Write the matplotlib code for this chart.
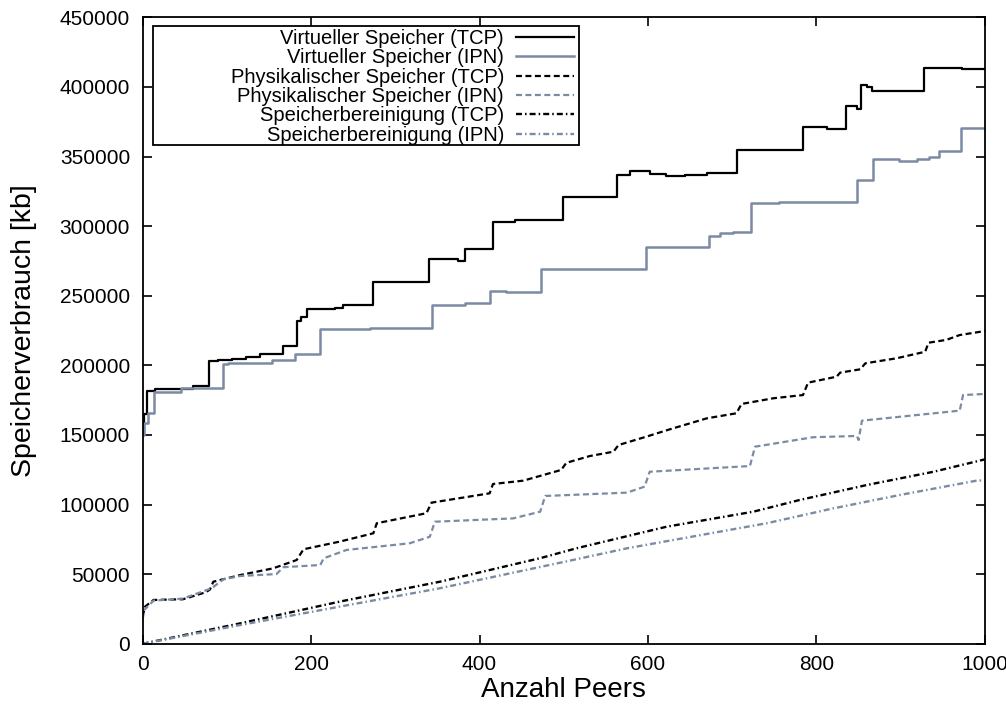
import numpy as np
import matplotlib.pyplot as plt
from matplotlib.patches import Rectangle

plt.rcParams['font.family'] = ['Liberation Sans', 'DejaVu Sans']
plt.rcParams['lines.scale_dashes'] = False

# Virtueller Speicher (Stufen)
virt_tcp_x = [0, 2, 5, 15, 60, 79, 90, 106, 123, 140, 167, 183, 188, 195, 228, 238, 274, 340, 375,
              383, 416, 442, 499, 563, 579, 602, 621, 644, 670, 706, 784, 813, 835, 848, 853, 860,
              866, 928, 973, 1000]
virt_tcp_y = [150000, 165000, 181600, 183300, 185200, 203100, 204000, 204800, 205800, 208200,
              213900, 232100, 235000, 240300, 241500, 243600, 259700, 276200, 275000, 283400,
              303300, 304500, 320800, 336800, 339700, 337300, 336100, 337000, 338000, 354700,
              371000, 369800, 386400, 384000, 401400, 400000, 397400, 413900, 412700, 412700]

virt_ipn_x = [0, 2, 7, 13, 46, 95, 102, 154, 181, 211, 270, 343, 383, 412, 431, 473, 598, 672,
              685, 701, 722, 755, 848, 867, 898, 919, 933, 945, 972, 1000]
virt_ipn_y = [150000, 158400, 166000, 181100, 183500, 200800, 201600, 203900, 208000, 226200,
              227000, 243300, 244600, 253700, 252500, 269000, 285300, 293000, 294900, 296000,
              316500, 317600, 333200, 348000, 346800, 348000, 350000, 354200, 370300, 370300]

# Physikalischer Speicher
phys_tcp_x = [0, 3, 13, 48, 75, 80, 84, 116, 155, 183, 191, 234, 274, 278, 337, 343, 412, 416,
              452, 497, 503, 531, 559, 565, 598, 626, 670, 705, 711, 749, 784, 790, 824, 828,
              852, 858, 895, 929, 933, 954, 970, 1000]
phys_tcp_y = [19500, 26700, 31500, 32000, 37000, 39000, 44600, 49400, 54200, 60200, 67900, 73400,
              79400, 86600, 93800, 101400, 108100, 114800, 117200, 124900, 130000, 134900,
              138000, 142800, 148800, 154100, 162000, 165600, 172300, 176400, 178700, 187600,
              191900, 194800, 197200, 201500, 205100, 209800, 216300, 218300, 221800, 224700]

phys_ipn_x = [0, 2, 13, 48, 82, 96, 116, 159, 167, 211, 215, 242, 317, 341, 347, 440, 472, 478,
              507, 575, 596, 602, 721, 727, 796, 848, 850, 854, 970, 974, 1000]
phys_ipn_y = [17100, 24300, 31000, 32500, 39900, 46300, 48700, 50100, 55000, 56600, 61400,
              67400, 72200, 76900, 87700, 90100, 94900, 106200, 106900, 108600, 112900, 123600,
              127700, 141600, 148400, 149300, 146400, 160300, 167500, 178700, 179500]

# Speicherbereinigung
gc_tcp_x = [0, 116, 234, 353, 472, 515, 622, 725, 780, 860, 939, 1000]
gc_tcp_y = [0, 14700, 30300, 44600, 61500, 68600, 84100, 94900, 103300, 114100, 123600, 132500]

gc_ipn_x = [0, 116, 234, 353, 507, 575, 741, 820, 899, 990, 1000]
gc_ipn_y = [0, 13500, 26700, 39900, 59700, 68600, 86600, 97300, 106900, 117200, 117500]

grau = '#7b8ba3'
gestrichelt = (0, (4.3, 2.5))
strichpunkt = (0, (4.3, 2.2, 1.1, 2.2))

fig = plt.figure(figsize=(10.06, 7.07), dpi=100)
ax = fig.add_axes([0.1417, 0.0894, 0.8374, 0.886])

ax.plot(virt_tcp_x, virt_tcp_y, drawstyle='steps-post', color='black', lw=1.6,
        label='Virtueller Speicher (TCP)')
ax.plot(virt_ipn_x, virt_ipn_y, drawstyle='steps-post', color=grau, lw=1.8,
        label='Virtueller Speicher (IPN)')
ax.plot(phys_tcp_x, phys_tcp_y, color='black', lw=1.6, linestyle=gestrichelt,
        label='Physikalischer Speicher (TCP)')
ax.plot(phys_ipn_x, phys_ipn_y, color=grau, lw=1.6, linestyle=gestrichelt,
        label='Physikalischer Speicher (IPN)')
ax.plot(gc_tcp_x, gc_tcp_y, color='black', lw=1.7, linestyle=strichpunkt,
        label='Speicherbereinigung (TCP)')
ax.plot(gc_ipn_x, gc_ipn_y, color=grau, lw=1.7, linestyle=strichpunkt,
        label='Speicherbereinigung (IPN)')

ax.set_xlim(0, 1000)
ax.set_ylim(0, 450000)
ax.set_xticks(np.arange(0, 1001, 200))
ax.set_yticks(np.arange(0, 450001, 50000))
ax.ticklabel_format(style='plain', useOffset=False)
ax.tick_params(direction='in', top=True, right=True, length=6.5, width=1.2, labelsize=15)
ax.tick_params(axis='x', pad=8)
ax.tick_params(axis='y', pad=9)
for s in ax.spines.values():
    s.set_linewidth(1.3)

ax.set_xlabel('Anzahl Peers', fontsize=20, labelpad=2)
ax.set_ylabel('Speicherverbrauch [kb]', fontsize=20.5, labelpad=16)

leg = ax.legend(loc='upper right', bbox_to_anchor=(0.515, 0.985), borderaxespad=0,
                frameon=False, markerfirst=False, fontsize=14.5, handlelength=2.9,
                handletextpad=0.6, labelspacing=0.02, borderpad=0.1)
ax.add_patch(Rectangle((0.0125, 0.796), 0.5055, 0.19, transform=ax.transAxes,
                       fill=False, lw=1.3, ec='black', zorder=5))

fig.savefig('out.png', dpi=100)
